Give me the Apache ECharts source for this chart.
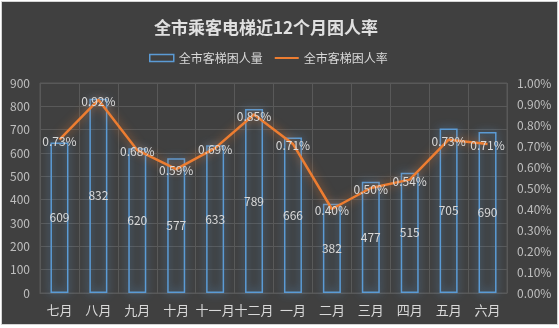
<!DOCTYPE html>
<html>
<head>
<meta charset="utf-8">
<script src="https://cdn.jsdelivr.net/npm/echarts@6/dist/echarts.min.js"></script>
<style>
html,body{margin:0;padding:0;background:#ffffff;}
#frame{position:absolute;left:1px;top:1px;width:555px;height:322px;border:1px solid #d4d4d4;background:#404040;}
#chart{width:555px;height:322px;}
</style>
</head>
<body>
<div id="frame"><div id="chart"></div></div>
<script>
const categories = ['七月','八月','九月','十月','十一月','十二月','一月','二月','三月','四月','五月','六月'];
const trappedCount = [645, 832, 620, 577, 633, 789, 666, 382, 477, 515, 705, 690];
const trappedCountLabels = ['609','832','620','577','633','789','666','382','477','515','705','690'];
const trappedRate = [0.73, 0.92, 0.68, 0.59, 0.69, 0.85, 0.71, 0.40, 0.50, 0.54, 0.73, 0.71];
const leftTicks = [0, 100, 200, 300, 400, 500, 600, 700, 800, 900];
const rightTicks = [0, 0.1, 0.2, 0.3, 0.4, 0.5, 0.6, 0.7, 0.8, 0.9, 1.0];

const FONT = '"Microsoft YaHei","Noto Sans CJK SC",sans-serif';
const chart = echarts.init(document.getElementById('chart'));
chart.setOption({
  backgroundColor: '#404040',
  textStyle: {fontFamily: FONT},
  title: {
    text: '全市乘客电梯近12个月困人率',
    left: 259, top: 12, textAlign: 'center',
    textStyle: {color: '#e0e0e0', fontSize: 17, fontWeight: 'bold', fontFamily: FONT}
  },
  legend: {
    left: 142, top: 45,
    itemWidth: 24, itemHeight: 7, itemGap: 12,
    textStyle: {color: '#d9d9d9', fontSize: 12, fontFamily: FONT},
    data: [
      {name: '全市客梯困人量', icon: 'rect', itemStyle: {color: 'rgba(0,0,0,0)', borderColor: '#5b9bd5', borderWidth: 1.5}},
      {name: '全市客梯困人率', icon: 'path://M0,3 L24,3 L24,5 L0,5 Z', itemStyle: {color: '#ed7d31'}}
    ]
  },
  grid: {left: 38, right: 50, top: 81, bottom: 31, show: true, borderColor: '#595959', borderWidth: 1},
  xAxis: {
    type: 'category', data: categories, boundaryGap: true,
    axisLine: {show: true, lineStyle: {color: '#595959'}},
    axisTick: {show: false},
    axisLabel: {color: '#d9d9d9', fontSize: 13, margin: 11, interval: 0},
    splitLine: {show: true, interval: 0, lineStyle: {color: '#595959', width: 1}}
  },
  yAxis: [
    {
      type: 'value', min: leftTicks[0], max: leftTicks[leftTicks.length - 1], interval: 100,
      axisLine: {show: false}, axisTick: {show: false},
      axisLabel: {color: '#bfbfbf', fontSize: 12, margin: 10},
      splitLine: {show: true, lineStyle: {color: '#595959'}}
    },
    {
      type: 'value', min: rightTicks[0], max: rightTicks[rightTicks.length - 1], interval: 0.1,
      axisLine: {show: false}, axisTick: {show: false},
      axisLabel: {color: '#bfbfbf', fontSize: 12, margin: 10, formatter: v => v.toFixed(2) + '%'},
      splitLine: {show: false}
    }
  ],
  series: [
    {
      name: '全市客梯困人量', type: 'bar', data: trappedCount, barWidth: 18, yAxisIndex: 0,
      itemStyle: {color: 'rgba(64,64,64,0.01)', borderColor: '#5b9bd5', borderWidth: 1.5,
        shadowColor: 'rgba(91,155,213,0.9)', shadowBlur: 8},
      label: {show: true, position: 'inside', color: '#d9d9d9', fontSize: 12,
        formatter: p => trappedCountLabels[p.dataIndex]}
    },
    {
      name: '全市客梯困人率', type: 'line', data: trappedRate, yAxisIndex: 1,
      symbol: 'circle', symbolSize: 1, showSymbol: true,
      itemStyle: {color: 'rgba(0,0,0,0)'},
      lineStyle: {color: '#ed7d31', width: 2.5, shadowColor: 'rgba(237,125,49,0.7)', shadowBlur: 10},
      label: {show: true, position: 'top', distance: -8, color: '#d9d9d9', fontSize: 12,
        formatter: p => p.value.toFixed(2) + '%'},
      z: 5
    }
  ]
});
</script>
</body>
</html>
